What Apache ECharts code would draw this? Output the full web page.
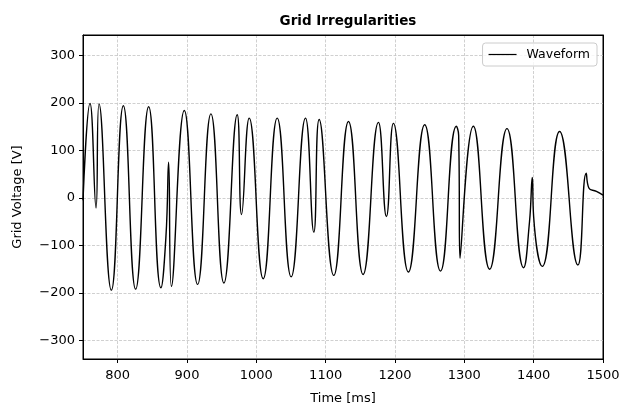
<!DOCTYPE html>
<html><head><meta charset="utf-8">
<script src="https://cdn.jsdelivr.net/npm/echarts@6/dist/echarts.min.js"></script>
<style>html,body{margin:0;padding:0;background:#fff}#c{width:636px;height:410px}</style>
</head><body><div id="c"></div>
<script>
// Time axis values [ms]
const timeMs = [
  750, 760.1, 768.8, 773.1, 790.9, 808.2, 825.9, 844.7, 862.4, 869.6, 873.5, 877.5,
  896.1, 915.3, 934.5, 953.2, 972.4, 978.7, 989.7, 1009.9, 1030.1, 1050.2, 1070.9,
  1082.9, 1090.6, 1111.7, 1132.9, 1154.0, 1176.1, 1187.6, 1197.7, 1219.3, 1242.8,
  1265.6, 1288.5, 1291.8, 1293.8, 1313.0, 1336.5, 1361.5, 1385.5, 1394, 1398, 1400,
  1412.4, 1437.4, 1463.8, 1475.8, 1479.6, 1490.5, 1500
];
// Waveform voltage [V]
const voltage = [
  -5, 199, -21, 198, -194, 194, -192, 192, -189, -82, 75, -186,
  184, -182, 177, -179, 175, -35, 168, -170, 168, -166, 168,
  -72, 165, -163, 161, -161, 159, -39, 157, -156, 154,
  -154, 151, 132, -127, 151, -150, 146, -147, -50, 43, -40,
  -144, 140, -141, 52, 21, 14, 6
];
const xTicks = [800, 900, 1000, 1100, 1200, 1300, 1400, 1500];
const yTicks = [-300, -200, -100, 0, 100, 200, 300];
const seriesName = 'Waveform';

const FONT = 'DejaVu Sans';
const fmt = v => (v < 0 ? '\u2212' + Math.abs(v) : String(v));
const gridLine = {show: true, lineStyle: {color: '#c4c4c4', width: 0.8, type: [3, 1.5]}};
const chart = echarts.init(document.getElementById('c'), null, {renderer: 'canvas'});
chart.setOption({
  animation: false,
  backgroundColor: '#fff',
  title: {
    text: 'Grid Irregularities', left: 343, top: 9, textAlign: 'center',
    textStyle: {fontFamily: FONT, fontSize: 13.5, fontWeight: 'bold', color: '#000'}
  },
  legend: {
    data: [seriesName], right: 39, top: 43, orient: 'vertical',
    icon: 'rect', itemWidth: 28, itemHeight: 1.2,
    padding: [5, 7, 5, 6], borderColor: '#cccccc', borderWidth: 1, borderRadius: 3,
    backgroundColor: 'rgba(255,255,255,0.8)',
    textStyle: {fontFamily: FONT, fontSize: 12.5, color: '#000', padding: [0, 0, 0, 5], lineHeight: 13}
  },
  grid: {left: 83, right: 33, top: 35, bottom: 46, show: true, borderColor: '#000', borderWidth: 1, backgroundColor: 'transparent'},
  xAxis: [{
    type: 'value', min: 750, max: 1500, position: 'bottom',
    name: 'Time [ms]', nameLocation: 'middle', nameGap: 33,
    nameTextStyle: {fontFamily: FONT, fontSize: 13, color: '#000'},
    axisLine: {show: true, onZero: false, lineStyle: {color: '#000', width: 1}},
    axisTick: {show: true, length: 4, lineStyle: {color: '#000'}, customValues: xTicks},
    axisLabel: {fontFamily: FONT, fontSize: 13, color: '#000', margin: 10, customValues: xTicks, formatter: fmt},
    splitLine: gridLine
  }, {
    type: 'value', min: 750, max: 1500, position: 'top',
    axisLine: {show: true, onZero: false, lineStyle: {color: '#000', width: 1}},
    axisTick: {show: false}, axisLabel: {show: false}, splitLine: {show: false}
  }],
  yAxis: [{
    type: 'value', min: -339, max: 343, splitNumber: 7, position: 'left',
    name: 'Grid Voltage [V]', nameLocation: 'middle', nameGap: 59,
    nameTextStyle: {fontFamily: FONT, fontSize: 13, color: '#000'},
    axisLine: {show: true, onZero: false, lineStyle: {color: '#000', width: 1}},
    axisTick: {show: true, length: 4, lineStyle: {color: '#000'}, customValues: yTicks},
    axisLabel: {fontFamily: FONT, fontSize: 13, color: '#000', margin: 8, customValues: yTicks, formatter: fmt},
    splitLine: gridLine
  }, {
    type: 'value', min: -339, max: 343, position: 'right',
    axisLine: {show: true, onZero: false, lineStyle: {color: '#000', width: 1}},
    axisTick: {show: false}, axisLabel: {show: false}, splitLine: {show: false}
  }],
  series: [{
    name: seriesName, type: 'line', xAxisIndex: 0, yAxisIndex: 0,
    data: timeMs.map((t, i) => [t, voltage[i]]),
    smooth: 0.5, symbol: 'none', lineStyle: {color: '#000', width: 1.4}, itemStyle: {color: '#000'},
    clip: true, z: 3
  }]
});
</script></body></html>
